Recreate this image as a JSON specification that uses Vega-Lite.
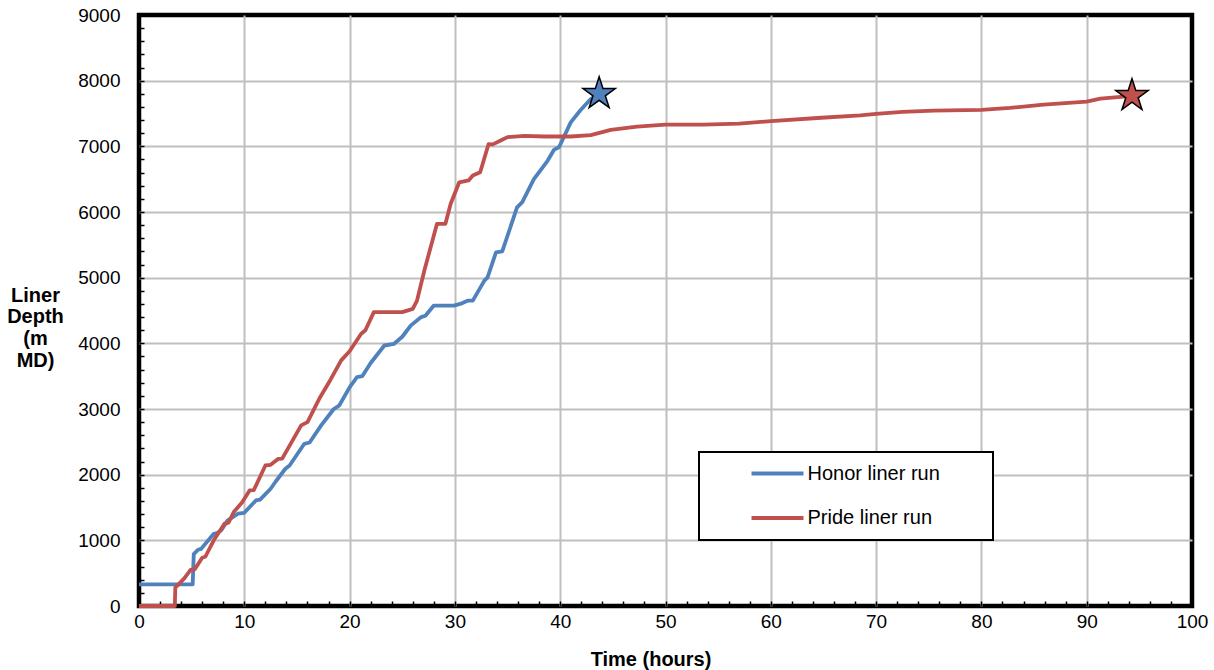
{
  "$schema": "https://vega.github.io/schema/vega-lite/v6.json",
  "width": 1053,
  "height": 591,
  "autosize": {"type": "none"},
  "padding": {"left": 139, "top": 15, "right": 22, "bottom": 64},
  "background": "white",
  "config": {
    "font": "Liberation Sans",
    "view": {"stroke": "black", "strokeWidth": 4.5},
    "axis": {"labelColor": "black", "titleColor": "black"}
  },
  "datasets": {
    "runs": [
      {"run": "Honor liner run", "t": 0, "depth": 330},
      {"run": "Honor liner run", "t": 5.1, "depth": 330},
      {"run": "Honor liner run", "t": 5.2, "depth": 790},
      {"run": "Honor liner run", "t": 5.6, "depth": 857},
      {"run": "Honor liner run", "t": 5.9, "depth": 870},
      {"run": "Honor liner run", "t": 7.1, "depth": 1100},
      {"run": "Honor liner run", "t": 7.4, "depth": 1110},
      {"run": "Honor liner run", "t": 7.8, "depth": 1150},
      {"run": "Honor liner run", "t": 8.4, "depth": 1300},
      {"run": "Honor liner run", "t": 9.4, "depth": 1405},
      {"run": "Honor liner run", "t": 10.0, "depth": 1420},
      {"run": "Honor liner run", "t": 11.1, "depth": 1607},
      {"run": "Honor liner run", "t": 11.5, "depth": 1620},
      {"run": "Honor liner run", "t": 12.5, "depth": 1785},
      {"run": "Honor liner run", "t": 13.0, "depth": 1900},
      {"run": "Honor liner run", "t": 13.9, "depth": 2090},
      {"run": "Honor liner run", "t": 14.3, "depth": 2140},
      {"run": "Honor liner run", "t": 15.7, "depth": 2470},
      {"run": "Honor liner run", "t": 16.2, "depth": 2490},
      {"run": "Honor liner run", "t": 17.3, "depth": 2750},
      {"run": "Honor liner run", "t": 18.5, "depth": 3000},
      {"run": "Honor liner run", "t": 19.0, "depth": 3050},
      {"run": "Honor liner run", "t": 20.0, "depth": 3330},
      {"run": "Honor liner run", "t": 20.7, "depth": 3485},
      {"run": "Honor liner run", "t": 21.2, "depth": 3500},
      {"run": "Honor liner run", "t": 22.0, "depth": 3700},
      {"run": "Honor liner run", "t": 23.3, "depth": 3967},
      {"run": "Honor liner run", "t": 24.2, "depth": 3990},
      {"run": "Honor liner run", "t": 25.0, "depth": 4100},
      {"run": "Honor liner run", "t": 25.8, "depth": 4270},
      {"run": "Honor liner run", "t": 26.8, "depth": 4400},
      {"run": "Honor liner run", "t": 27.2, "depth": 4420},
      {"run": "Honor liner run", "t": 28.0, "depth": 4575},
      {"run": "Honor liner run", "t": 29.9, "depth": 4575},
      {"run": "Honor liner run", "t": 30.5, "depth": 4600},
      {"run": "Honor liner run", "t": 31.2, "depth": 4650},
      {"run": "Honor liner run", "t": 31.7, "depth": 4650},
      {"run": "Honor liner run", "t": 32.8, "depth": 4955},
      {"run": "Honor liner run", "t": 33.1, "depth": 5005},
      {"run": "Honor liner run", "t": 33.9, "depth": 5385},
      {"run": "Honor liner run", "t": 34.5, "depth": 5400},
      {"run": "Honor liner run", "t": 35.9, "depth": 6070},
      {"run": "Honor liner run", "t": 36.4, "depth": 6150},
      {"run": "Honor liner run", "t": 37.5, "depth": 6500},
      {"run": "Honor liner run", "t": 38.8, "depth": 6780},
      {"run": "Honor liner run", "t": 39.4, "depth": 6945},
      {"run": "Honor liner run", "t": 39.9, "depth": 6990},
      {"run": "Honor liner run", "t": 41.0, "depth": 7365},
      {"run": "Honor liner run", "t": 41.9, "depth": 7545},
      {"run": "Honor liner run", "t": 42.9, "depth": 7720},
      {"run": "Honor liner run", "t": 43.7, "depth": 7800},
      {"run": "Pride liner run", "t": 0, "depth": 0},
      {"run": "Pride liner run", "t": 3.4, "depth": 0},
      {"run": "Pride liner run", "t": 3.45, "depth": 280},
      {"run": "Pride liner run", "t": 4.3, "depth": 420},
      {"run": "Pride liner run", "t": 4.9, "depth": 550},
      {"run": "Pride liner run", "t": 5.3, "depth": 560},
      {"run": "Pride liner run", "t": 6.0, "depth": 735},
      {"run": "Pride liner run", "t": 6.3, "depth": 750},
      {"run": "Pride liner run", "t": 7.1, "depth": 1000},
      {"run": "Pride liner run", "t": 8.1, "depth": 1250},
      {"run": "Pride liner run", "t": 8.5, "depth": 1270},
      {"run": "Pride liner run", "t": 9.0, "depth": 1430},
      {"run": "Pride liner run", "t": 9.8, "depth": 1580},
      {"run": "Pride liner run", "t": 10.5, "depth": 1760},
      {"run": "Pride liner run", "t": 10.9, "depth": 1765},
      {"run": "Pride liner run", "t": 12.0, "depth": 2140},
      {"run": "Pride liner run", "t": 12.5, "depth": 2150},
      {"run": "Pride liner run", "t": 13.2, "depth": 2240},
      {"run": "Pride liner run", "t": 13.6, "depth": 2245},
      {"run": "Pride liner run", "t": 15.4, "depth": 2750},
      {"run": "Pride liner run", "t": 16.0, "depth": 2800},
      {"run": "Pride liner run", "t": 17.2, "depth": 3180},
      {"run": "Pride liner run", "t": 18.2, "depth": 3450},
      {"run": "Pride liner run", "t": 19.2, "depth": 3740},
      {"run": "Pride liner run", "t": 20.0, "depth": 3880},
      {"run": "Pride liner run", "t": 21.1, "depth": 4145},
      {"run": "Pride liner run", "t": 21.5, "depth": 4200},
      {"run": "Pride liner run", "t": 22.3, "depth": 4475},
      {"run": "Pride liner run", "t": 25.0, "depth": 4475},
      {"run": "Pride liner run", "t": 26.0, "depth": 4525},
      {"run": "Pride liner run", "t": 26.4, "depth": 4650},
      {"run": "Pride liner run", "t": 27.1, "depth": 5110},
      {"run": "Pride liner run", "t": 28.3, "depth": 5820},
      {"run": "Pride liner run", "t": 29.1, "depth": 5820},
      {"run": "Pride liner run", "t": 29.6, "depth": 6125},
      {"run": "Pride liner run", "t": 30.4, "depth": 6450},
      {"run": "Pride liner run", "t": 31.3, "depth": 6480},
      {"run": "Pride liner run", "t": 31.7, "depth": 6555},
      {"run": "Pride liner run", "t": 32.4, "depth": 6605},
      {"run": "Pride liner run", "t": 33.2, "depth": 7035},
      {"run": "Pride liner run", "t": 33.6, "depth": 7030},
      {"run": "Pride liner run", "t": 34.3, "depth": 7085},
      {"run": "Pride liner run", "t": 35.0, "depth": 7140},
      {"run": "Pride liner run", "t": 36.6, "depth": 7160},
      {"run": "Pride liner run", "t": 38.5, "depth": 7150},
      {"run": "Pride liner run", "t": 41.0, "depth": 7150},
      {"run": "Pride liner run", "t": 42.9, "depth": 7170},
      {"run": "Pride liner run", "t": 44.8, "depth": 7250},
      {"run": "Pride liner run", "t": 47.3, "depth": 7300},
      {"run": "Pride liner run", "t": 50.0, "depth": 7330},
      {"run": "Pride liner run", "t": 53.6, "depth": 7330},
      {"run": "Pride liner run", "t": 57.0, "depth": 7345},
      {"run": "Pride liner run", "t": 60.0, "depth": 7385},
      {"run": "Pride liner run", "t": 64.8, "depth": 7435},
      {"run": "Pride liner run", "t": 68.5, "depth": 7470},
      {"run": "Pride liner run", "t": 70.0, "depth": 7495},
      {"run": "Pride liner run", "t": 72.5, "depth": 7525},
      {"run": "Pride liner run", "t": 75.5, "depth": 7545},
      {"run": "Pride liner run", "t": 80.0, "depth": 7555},
      {"run": "Pride liner run", "t": 82.7, "depth": 7585},
      {"run": "Pride liner run", "t": 85.9, "depth": 7635},
      {"run": "Pride liner run", "t": 90.0, "depth": 7680},
      {"run": "Pride liner run", "t": 91.3, "depth": 7725},
      {"run": "Pride liner run", "t": 94.3, "depth": 7770}
    ],
    "ends": [
      {"run": "Honor liner run", "t": 43.7, "depth": 7800},
      {"run": "Pride liner run", "t": 94.3, "depth": 7770}
    ]
  },
  "layer": [
    {
      "data": {"name": "runs"},
      "mark": {"type": "line", "strokeWidth": 3.8, "strokeJoin": "round"},
      "encoding": {
        "x": {"field": "t", "type": "quantitative",
          "scale": {"domain": [0, 100], "nice": false, "zero": false},
          "axis": {
            "values": [0, 2, 4, 6, 8, 10, 12, 14, 16, 18, 20, 22, 24, 26, 28, 30, 32, 34, 36, 38, 40, 42, 44, 46, 48, 50, 52, 54, 56, 58, 60, 62, 64, 66, 68, 70, 72, 74, 76, 78, 80, 82, 84, 86, 88, 90, 92, 94, 96, 98, 100],
            "tickCount": 200,
            "labelExpr": "datum.value % 10 === 0 ? format(datum.value, 'd') : ''",
            "grid": true, "gridWidth": 2,
            "gridColor": {"condition": {"test": "datum.value % 10 === 0 && datum.value > 0 && datum.value < 100", "value": "#BFBFBF"}, "value": "transparent"},
            "ticks": true, "tickSize": -5, "tickWidth": 1.5, "tickColor": "black",
            "domain": false,
            "labelFontSize": 19, "labelPadding": 11, "labelFlush": false, "labelOverlap": false, "labelBound": false,
            "title": "Time (hours)", "titleFontSize": 20, "titleFontWeight": "bold",
            "titleX": 511.5, "titleY": 59, "titleAlign": "center", "titleBaseline": "alphabetic"}},
        "y": {"field": "depth", "type": "quantitative",
          "scale": {"domain": [0, 9000], "nice": false},
          "axis": {
            "values": [0, 200, 400, 600, 800, 1000, 1200, 1400, 1600, 1800, 2000, 2200, 2400, 2600, 2800, 3000, 3200, 3400, 3600, 3800, 4000, 4200, 4400, 4600, 4800, 5000, 5200, 5400, 5600, 5800, 6000, 6200, 6400, 6600, 6800, 7000, 7200, 7400, 7600, 7800, 8000, 8200, 8400, 8600, 8800, 9000],
            "tickCount": 200,
            "labelExpr": "datum.value % 1000 === 0 ? format(datum.value, 'd') : ''",
            "grid": true, "gridWidth": 2,
            "gridColor": {"condition": {"test": "datum.value % 1000 === 0 && datum.value > 0 && datum.value < 9000", "value": "#BFBFBF"}, "value": "transparent"},
            "ticks": true, "tickSize": -5, "tickWidth": 1.5, "tickColor": "black",
            "domain": false,
            "labelFontSize": 19, "labelPadding": 24, "labelFlush": false, "labelOverlap": false, "labelBound": false,
            "title": ["Liner", "Depth", "(m", "MD)"], "titleFontSize": 20, "titleFontWeight": "bold", "titleAngle": 0,
            "titleX": -104, "titleY": 286, "titleAlign": "center", "titleBaseline": "alphabetic", "titleLineHeight": 21.7}},
        "color": {"field": "run", "type": "nominal",
          "scale": {"domain": ["Honor liner run", "Pride liner run"], "range": ["#4F81BD", "#C0504D"]},
          "legend": {"orient": "none", "legendX": 560, "legendY": 437, "title": null, "direction": "vertical",
            "symbolType": "stroke", "symbolSize": 2700, "symbolStrokeWidth": 4, "symbolOffset": 39, "clipHeight": 20,
            "labelOffset": 2, "labelFontSize": 20, "labelColor": "black", "labelLimit": 400,
            "padding": 11.5, "rowPadding": 24.6, "fillColor": "white", "strokeColor": "black",
            "encode": {
              "legend": {"update": {"strokeWidth": {"value": 2}}},
              "entries": {"update": {"width": {"value": 271}}}
            }}}
      }
    },
    {
      "data": {"name": "ends"},
      "mark": {"type": "point",
        "shape": "M0,-1L0.2245,-0.309L0.951,-0.309L0.363,0.118L0.588,0.809L0,0.382L-0.588,0.809L-0.363,0.118L-0.951,-0.309L-0.2245,-0.309Z",
        "filled": true, "size": 1156, "stroke": "black", "strokeWidth": 1.5, "opacity": 1},
      "encoding": {
        "x": {"field": "t", "type": "quantitative"},
        "y": {"field": "depth", "type": "quantitative"},
        "color": {"field": "run", "type": "nominal", "legend": null}
      }
    }
  ]
}
